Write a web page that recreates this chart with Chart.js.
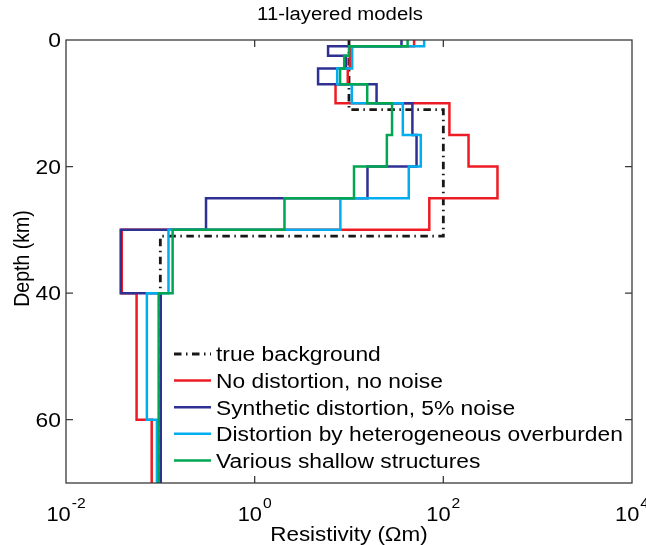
<!DOCTYPE html>
<html>
<head>
<meta charset="utf-8">
<script src="https://cdn.jsdelivr.net/npm/chart.js@4/dist/chart.umd.min.js"></script>
<style>
html,body{margin:0;padding:0;background:#fff;}
#wrap{width:646px;height:545px;position:relative;}
</style>
</head>
<body>
<div id="wrap"><canvas id="c" width="646" height="545"></canvas></div>
<script>
// ---- data ----
const titleText = '11-layered models';
const xTitle = 'Resistivity (\u03A9m)';
const yTitle = 'Depth (km)';
const seriesLabels = [
  'true background',
  'No distortion, no noise',
  'Synthetic distortion, 5% noise',
  'Distortion by heterogeneous overburden',
  'Various shallow structures'
];
const layerTopsKm = [0, 1, 2.5, 4.5, 7, 10, 15, 20, 25, 30, 40, 60];
const modelBottomKm = 70;
const trueTopsKm = [0, 11, 31];
const trueBackground = [10, 100, 0.1];
const noDistortion = [49, 10.2, 10.2, 9.7, 7.2, 116, 185, 375, 71, 0.039, 0.056, 0.081];
const syntheticDistortion = [36, 6.0, 9.3, 4.7, 19.6, 47, 52, 15.7, 0.305, 0.038, 0.101, 0.101];
const overburdenDistortion = [62.6, 10.8, 10.8, 7.5, 10.7, 37.2, 57.7, 43, 8.1, 0.122, 0.072, 0.092];
const shallowStructures = [41.8, 10, 8.9, 8.05, 15.6, 28.6, 25.2, 11.3, 2.07, 0.135, 0.096, 0.096];
const xTickValues = [0.01, 1, 100, 10000];
const xTickExponents = ['-2', '0', '2', '4'];
const yTickValues = [0, 20, 40, 60];
const yTickLabels = ['0', '20', '40', '60'];

const colors = ['#1a1718', '#ED1C24', '#2E3192', '#00AEEF', '#00A651'];
const FONT = '"Liberation Sans", Arial, Helvetica, sans-serif';

function stepProfile(tops, values, bottom) {
  const pts = [];
  values.forEach((v, i) => {
    const top = tops[i];
    const base = i + 1 < tops.length ? tops[i + 1] : bottom;
    pts.push({x: v, y: top}, {x: v, y: base});
  });
  return pts;
}

function drawText(ctx, text, x, y, size, align, baseline, sx) {
  ctx.save();
  ctx.font = size + 'px ' + FONT;
  ctx.textBaseline = baseline;
  ctx.textAlign = 'left';
  const w = ctx.measureText(text).width * sx;
  const x0 = align === 'center' ? x - w / 2 : (align === 'right' ? x - w : x);
  ctx.translate(x0, y);
  ctx.scale(sx, 1);
  ctx.fillStyle = '#000';
  ctx.fillText(text, 0, 0);
  ctx.restore();
  return w;
}

const dashes = [[7.5, 4.5, 1.5, 4.5], [], [], [], []];
const widths = [2.8, 2.5, 2.5, 2.5, 2.5];

const framePlugin = {
  id: 'frame',
  afterDraw(chart) {
    const ctx = chart.ctx;
    const a = chart.chartArea;
    const xs = chart.scales.x, ys = chart.scales.y;
    ctx.save();
    // box
    ctx.strokeStyle = '#3a3a3a';
    ctx.lineWidth = 1.3;
    ctx.strokeRect(a.left, a.top, a.right - a.left, a.bottom - a.top);
    // inner ticks
    ctx.beginPath();
    xTickValues.forEach(v => {
      const px = xs.getPixelForValue(v);
      if (px <= a.left + 1 || px >= a.right - 1) return;
      ctx.moveTo(px, a.bottom); ctx.lineTo(px, a.bottom - 7);
      ctx.moveTo(px, a.top); ctx.lineTo(px, a.top + 7);
    });
    yTickValues.forEach(v => {
      const py = ys.getPixelForValue(v);
      if (py <= a.top + 1 || py >= a.bottom - 1) return;
      ctx.moveTo(a.left, py); ctx.lineTo(a.left + 7, py);
      ctx.moveTo(a.right, py); ctx.lineTo(a.right - 7, py);
    });
    ctx.stroke();

    // x tick labels: 10 with superscript exponent
    xTickValues.forEach((v, i) => {
      const px = xs.getPixelForValue(v);
      ctx.font = '19.5px ' + FONT;
      const wb = ctx.measureText('10').width * 1.12;
      ctx.font = '14px ' + FONT;
      const we = ctx.measureText(xTickExponents[i]).width * 1.12;
      const x0 = px - (wb + we + 1) / 2;
      drawText(ctx, '10', x0, 521, 19.5, 'left', 'alphabetic', 1.12);
      drawText(ctx, xTickExponents[i], x0 + wb + 1, 508, 14, 'left', 'alphabetic', 1.12);
    });
    // y tick labels
    yTickValues.forEach((v, i) => {
      const py = ys.getPixelForValue(v);
      drawText(ctx, yTickLabels[i], 61, py + 7, 19.5, 'right', 'alphabetic', 1.17);
    });
    // axis titles
    drawText(ctx, xTitle, (a.left + a.right) / 2, 541, 19.5, 'center', 'alphabetic', 1.15);
    ctx.save();
    ctx.translate(29, (a.top + a.bottom) / 2 - 3);
    ctx.rotate(-Math.PI / 2);
    ctx.scale(1, 1.15);
    drawText(ctx, yTitle, 0, 0, 19.5, 'center', 'alphabetic', 1);
    ctx.restore();
    // title
    drawText(ctx, titleText, 340, 20, 18, 'center', 'alphabetic', 1.13);

    // legend
    const ly0 = 354, ldy = 26.6;
    seriesLabels.forEach((lab, i) => {
      const y = ly0 + i * ldy;
      ctx.save();
      ctx.strokeStyle = colors[i];
      ctx.lineWidth = widths[i];
      ctx.setLineDash(dashes[i]);
      ctx.beginPath();
      ctx.moveTo(174, y); ctx.lineTo(211, y);
      ctx.stroke();
      ctx.restore();
      drawText(ctx, lab, 216, y + 7.3, 20, 'left', 'alphabetic', 1.14);
    });
    ctx.restore();
  }
};

const seriesValues = [trueBackground, noDistortion, syntheticDistortion, overburdenDistortion, shallowStructures];
const datasets = seriesValues.map((vals, i) => ({
  label: seriesLabels[i],
  data: i === 0 ? stepProfile(trueTopsKm, vals, modelBottomKm) : stepProfile(layerTopsKm, vals, modelBottomKm),
  order: seriesValues.length - 1 - i,
  borderColor: colors[i],
  backgroundColor: colors[i],
  borderWidth: widths[i],
  borderDash: dashes[i],
  borderJoinStyle: 'miter',
  borderCapStyle: 'butt',
  showLine: true,
  fill: false,
  tension: 0,
  pointRadius: 0,
  pointHoverRadius: 0
}));

new Chart(document.getElementById('c').getContext('2d'), {
  type: 'scatter',
  data: {datasets},
  options: {
    responsive: false,
    animation: false,
    devicePixelRatio: 1,
    layout: {padding: {top: 40, right: 14, left: 0, bottom: 0}},
    plugins: {legend: {display: false}, title: {display: false}, tooltip: {enabled: false}},
    scales: {
      x: {
        type: 'logarithmic', position: 'bottom', min: 0.01, max: 10000,
        ticks: {display: false}, grid: {display: false}, border: {display: false},
        afterBuildTicks(s) { s.ticks = xTickValues.map(v => ({value: v})); },
        afterFit(s) { s.height = 62; }
      },
      y: {
        type: 'linear', position: 'left', reverse: true, min: 0, max: modelBottomKm,
        ticks: {display: false}, grid: {display: false}, border: {display: false},
        afterBuildTicks(s) { s.ticks = yTickValues.map(v => ({value: v})); },
        afterFit(s) { s.width = 66; }
      }
    }
  },
  plugins: [framePlugin]
});
</script>
</body>
</html>
